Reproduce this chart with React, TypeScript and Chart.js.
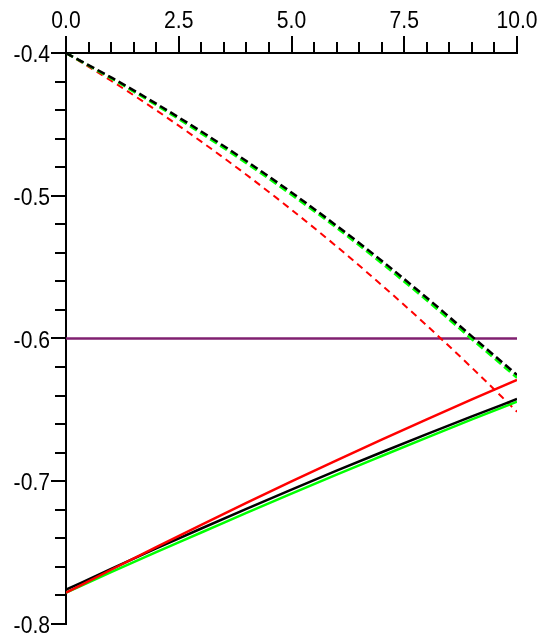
import React, { useEffect, useRef } from "react";
import { Chart, registerables } from "chart.js";

Chart.register(...registerables);

const xs = [0, 1, 2, 3, 4, 5, 6, 7, 8, 9, 10];

const blackDashed = [-0.4, -0.4171, -0.4355, -0.455, -0.4757, -0.4977, -0.521, -0.5455, -0.5715, -0.5985, -0.6255];
const greenDashed = [-0.4, -0.4178, -0.4365, -0.4563, -0.4772, -0.4993, -0.5225, -0.5473, -0.5733, -0.6005, -0.6275];
const redDashed = [-0.4, -0.4194, -0.4401, -0.4621, -0.4853, -0.5098, -0.5355, -0.5626, -0.5909, -0.6205, -0.6513];
const purpleFlat = [-0.6, -0.6, -0.6, -0.6, -0.6, -0.6, -0.6, -0.6, -0.6, -0.6, -0.6];
const blackSolid = [-0.776, -0.7614, -0.7471, -0.7331, -0.7193, -0.7058, -0.6926, -0.6797, -0.667, -0.6546, -0.6424];
const redSolid = [-0.7781, -0.762, -0.7461, -0.7305, -0.7152, -0.7001, -0.6854, -0.6709, -0.6567, -0.6427, -0.629];
const greenSolid = [-0.778, -0.7637, -0.7496, -0.7359, -0.7221, -0.7086, -0.6953, -0.6823, -0.6694, -0.6567, -0.6443];

const xTickMarks = [0, 0.5, 1, 1.5, 2, 2.5, 3, 3.5, 4, 4.5, 5, 5.5, 6, 6.5, 7, 7.5, 8, 8.5, 9, 9.5, 10];
const xMajorMarks = [0, 2.5, 5, 7.5, 10];
const xTickLabels = ["0.0", "2.5", "5.0", "7.5", "10.0"];
const yTickMarks = [-0.8, -0.78, -0.76, -0.74, -0.72, -0.7, -0.68, -0.66, -0.64, -0.62, -0.6, -0.58, -0.56, -0.54, -0.52, -0.5, -0.48, -0.46, -0.44, -0.42, -0.4];
const yMajorMarks = [-0.8, -0.7, -0.6, -0.5, -0.4];
const yTickLabels = ["-0.8", "-0.7", "-0.6", "-0.5", "-0.4"];

const FONT = "'Liberation Sans', Arial, sans-serif";
const FONT_SIZE = 24;
const NARROW = 0.88;

function pts(ys: number[]) {
  return xs.map((x, i) => ({ x, y: ys[i] }));
}

const tickPlugin = {
  id: "customTicks",
  afterDraw(chart: any) {
    const { ctx, chartArea, scales } = chart;
    ctx.save();
    ctx.strokeStyle = "#000";
    ctx.lineWidth = 2;
    ctx.beginPath();
    xTickMarks.forEach((v) => {
      const px = Math.round(scales.x.getPixelForValue(v));
      const major = xMajorMarks.some((m) => Math.abs(m - v) < 1e-9);
      const len = major ? 17 : 11;
      ctx.moveTo(px, chartArea.top);
      ctx.lineTo(px, chartArea.top - len);
    });
    yTickMarks.forEach((v) => {
      const py = Math.round(scales.y.getPixelForValue(v));
      const major = yMajorMarks.some((m) => Math.abs(m - v) < 1e-9);
      const len = major ? 15 : 11;
      ctx.moveTo(chartArea.left, py);
      ctx.lineTo(chartArea.left - len, py);
    });
    ctx.stroke();

    ctx.fillStyle = "#000";
    ctx.font = `${FONT_SIZE}px ${FONT}`;
    ctx.textBaseline = "alphabetic";
    ctx.textAlign = "center";
    xMajorMarks.forEach((v, i) => {
      const px = scales.x.getPixelForValue(v);
      ctx.save();
      ctx.translate(px, chartArea.top - 25);
      ctx.scale(NARROW, 1);
      ctx.fillText(xTickLabels[i], 0, 0);
      ctx.restore();
    });
    ctx.textAlign = "right";
    yMajorMarks.forEach((v, i) => {
      const py = scales.y.getPixelForValue(v);
      ctx.save();
      ctx.translate(chartArea.left - 16, py + 9);
      ctx.scale(NARROW, 1);
      ctx.fillText(yTickLabels[i], 0, 0);
      ctx.restore();
    });
    ctx.restore();
  },
};

export default function App() {
  const ref = useRef<HTMLCanvasElement>(null);

  useEffect(() => {
    if (!ref.current) return;
    const dash = [8, 4];
    const common = {
      pointRadius: 0,
      borderWidth: 2.5,
      tension: 0.4,
      cubicInterpolationMode: "monotone" as const,
      fill: false,
    };
    const chart = new Chart(ref.current, {
      type: "line",
      data: {
        datasets: [
          { ...common, data: pts(redSolid), borderColor: "#ff0000", order: 1 },
          { ...common, data: pts(blackSolid), borderColor: "#000000", order: 2 },
          { ...common, data: pts(greenSolid), borderColor: "#00ff00", order: 3 },
          { ...common, data: pts(blackDashed), borderColor: "#000000", borderDash: dash, order: 1 },
          { ...common, data: pts(greenDashed), borderColor: "#00ff00", borderDash: dash, order: 2 },
          { ...common, data: pts(redDashed), borderColor: "#ff0000", borderDash: [7, 5], borderWidth: 2, order: 3 },
          { ...common, data: pts(purpleFlat), borderColor: "rgb(128,32,112)", tension: 0, order: 5 },
        ],
      },
      options: {
        animation: false,
        responsive: false,
        maintainAspectRatio: false,
        layout: { padding: { left: 0, top: 0, right: 23, bottom: 17 } },
        plugins: { legend: { display: false }, tooltip: { enabled: false } },
        scales: {
          x: {
            type: "linear",
            position: "top",
            min: 0,
            max: 10,
            afterFit: (s: any) => {
              s.height = 53;
              s.paddingLeft = 0;
              s.paddingRight = 0;
              s.paddingTop = 0;
              s.paddingBottom = 0;
            },
            grid: { display: true, drawOnChartArea: false, drawTicks: false },
            border: { display: true, color: "#000", width: 2 },
            ticks: { display: false, stepSize: 2.5 },
          },
          y: {
            type: "linear",
            min: -0.8,
            max: -0.4,
            afterFit: (s: any) => {
              s.width = 66;
              s.paddingLeft = 0;
              s.paddingRight = 0;
              s.paddingTop = 0;
              s.paddingBottom = 0;
            },
            grid: { display: true, drawOnChartArea: false, drawTicks: false },
            border: { display: true, color: "#000", width: 2 },
            ticks: { display: false, stepSize: 0.1 },
          },
        },
      },
      plugins: [tickPlugin],
    });
    return () => chart.destroy();
  }, []);

  return (
    <div style={{ position: "fixed", left: 0, top: 0, width: 540, height: 641, background: "#fff" }}>
      <canvas ref={ref} width={540} height={641} style={{ display: "block", width: 540, height: 641 }} />
    </div>
  );
}
